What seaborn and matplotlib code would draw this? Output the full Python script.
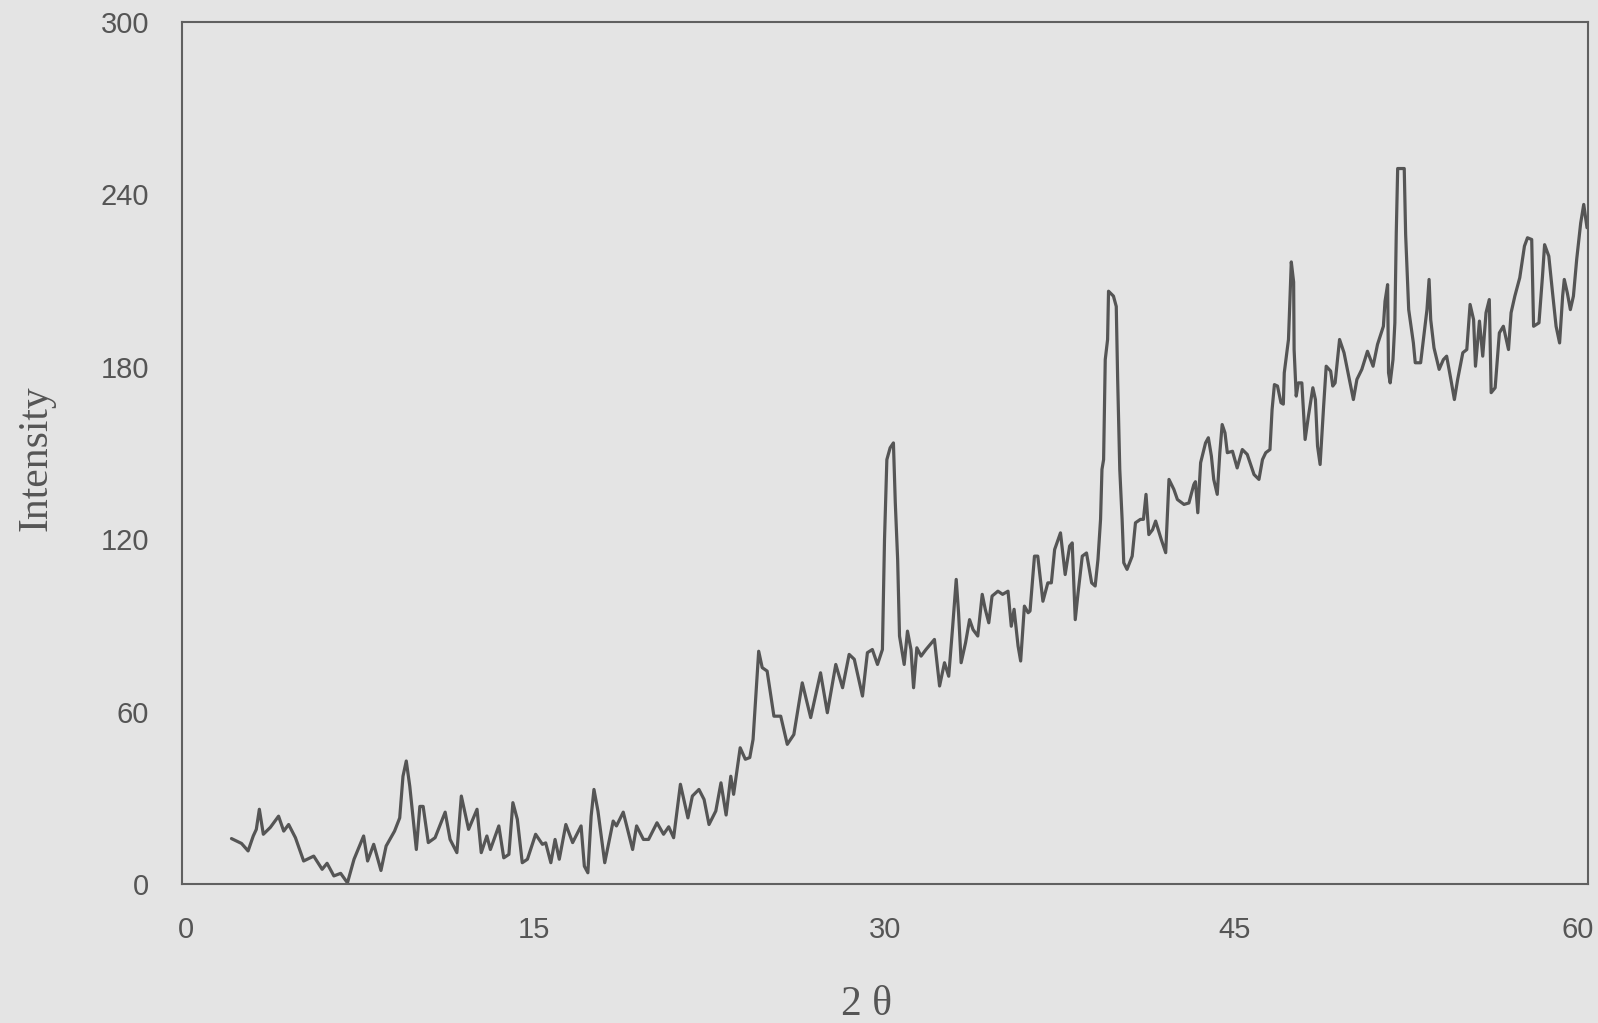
import matplotlib
matplotlib.use("Agg")
import matplotlib.pyplot as plt
from matplotlib.ticker import MultipleLocator
from matplotlib.transforms import ScaledTranslation
import seaborn as sns
import pandas as pd

# X-ray powder diffraction scan: diffraction angle (degrees) and counts
two_theta = [
    2.09, 2.52, 2.80, 3.02, 3.15, 3.28, 3.45, 3.75, 4.10, 4.32, 4.53, 4.82,
    5.17, 5.60, 5.96, 6.17, 6.46, 6.75, 7.04, 7.32, 7.73, 7.90, 8.16, 8.47,
    8.69, 9.05, 9.27, 9.41, 9.55, 9.70, 9.98, 10.13, 10.27, 10.49, 10.78,
    11.21, 11.42, 11.71, 11.90, 12.21, 12.57, 12.75, 12.99, 13.14, 13.50,
    13.71, 13.93, 14.10, 14.29, 14.50, 14.72, 15.07, 15.36, 15.50, 15.72,
    15.90, 16.08, 16.36, 16.65, 17.01, 17.15, 17.30, 17.44, 17.56, 17.73,
    18.02, 18.38, 18.52, 18.81, 19.21, 19.38, 19.67, 19.89, 20.25, 20.53,
    20.75, 20.96, 21.25, 21.57, 21.76, 22.04, 22.26, 22.47, 22.76, 22.98,
    23.20, 23.40, 23.52, 23.80, 24.02, 24.21, 24.35, 24.45, 24.59, 24.74,
    24.95, 25.24, 25.53, 25.81, 26.09, 26.45, 26.81, 27.23, 27.52, 27.88,
    28.17, 28.45, 28.67, 29.02, 29.23, 29.44, 29.66, 29.87, 29.96, 30.06,
    30.20, 30.34, 30.42, 30.52, 30.60, 30.80, 30.94, 31.09, 31.20, 31.34,
    31.52, 31.73, 32.09, 32.31, 32.52, 32.70, 32.87, 33.02, 33.12, 33.23,
    33.42, 33.59, 33.74, 33.94, 34.13, 34.26, 34.41, 34.55, 34.80, 35.00,
    35.23, 35.37, 35.49, 35.66, 35.77, 35.93, 36.09, 36.17, 36.36, 36.50,
    36.72, 36.93, 37.08, 37.22, 37.47, 37.67, 37.86, 37.97, 38.10, 38.22,
    38.40, 38.58, 38.80, 38.95, 39.07, 39.18, 39.24, 39.31, 39.38, 39.48,
    39.52, 39.73, 39.85, 39.91, 40.00, 40.10, 40.17, 40.31, 40.53, 40.67,
    40.88, 41.01, 41.12, 41.24, 41.40, 41.53, 41.77, 41.96, 42.10, 42.31,
    42.46, 42.74, 42.95, 43.16, 43.23, 43.33, 43.45, 43.66, 43.78, 43.91,
    44.01, 44.16, 44.27, 44.37, 44.49, 44.59, 44.81, 45.01, 45.23, 45.44,
    45.73, 45.94, 46.09, 46.23, 46.41, 46.50, 46.60, 46.73, 46.88, 46.98,
    47.02, 47.20, 47.27, 47.32, 47.42, 47.44, 47.53, 47.62, 47.77, 47.91,
    48.05, 48.24, 48.35, 48.44, 48.55, 48.70, 48.81, 49.00, 49.09, 49.19,
    49.38, 49.57, 49.77, 49.97, 50.12, 50.33, 50.57, 50.81, 51.00, 51.25,
    51.32, 51.43, 51.47, 51.54, 51.66, 51.74, 51.80, 51.86, 52.14, 52.20,
    52.33, 52.53, 52.61, 52.84, 52.96, 53.11, 53.20, 53.27, 53.41, 53.63,
    53.81, 53.95, 54.13, 54.28, 54.42, 54.64, 54.81, 54.95, 55.10, 55.18,
    55.35, 55.49, 55.63, 55.77, 55.85, 56.02, 56.20, 56.37, 56.59, 56.70,
    56.86, 57.07, 57.27, 57.40, 57.58, 57.66, 57.89, 58.04, 58.13, 58.31,
    58.47, 58.62, 58.77, 58.90, 58.97, 59.10, 59.23, 59.36, 59.50, 59.67,
    59.80, 59.94,
]
intensity = [
    15.8, 14.1, 11.5, 16.7, 19.0, 26.0, 17.3, 19.7, 23.6, 18.4, 20.7, 16.1,
    8.0, 9.7, 5.1, 7.2, 2.8, 3.7, 0.4, 8.6, 16.7, 8.0, 13.8, 4.7,
    13.2, 18.4, 23.0, 37.5, 42.8, 34.0, 12.0, 27.0, 27.0, 14.4, 16.1,
    25.0, 15.5, 10.9, 30.6, 19.0, 26.0, 10.9, 16.7, 12.0, 20.2,
    9.1, 10.3, 28.3, 22.5, 7.4, 8.6, 17.3, 13.8, 14.3, 7.4,
    15.5, 8.6, 20.7, 14.4, 20.2, 6.2, 3.9, 23.6, 32.9, 25.4,
    7.4, 21.9, 20.2, 25.0, 12.0, 20.2, 15.5, 15.5, 21.3, 17.3,
    19.9, 16.1, 34.7, 23.0, 30.6, 32.9, 29.4, 20.7, 25.4, 35.2,
    24.0, 37.5, 31.2, 47.4, 43.4, 44.0, 50.3, 63.1, 81.0, 75.3,
    74.1, 58.4, 58.4, 48.6, 52.0, 70.0, 57.9, 73.5, 59.6, 76.4,
    68.3, 79.9, 78.2, 65.4, 80.5, 81.6, 76.4, 81.6, 119.9, 147.7,
    151.8, 153.5, 132.7, 113.0, 86.3, 76.4, 88.0, 81.6, 68.3, 82.2,
    79.3, 81.6, 85.1, 68.9, 77.0, 72.3, 89.7, 106.0, 94.4, 77.0,
    84.0, 92.0, 88.5, 86.3, 100.8, 95.6, 90.9, 100.2, 101.9, 100.8,
    101.9, 89.7, 95.6, 82.8, 77.6, 96.7, 94.4, 95.0, 114.1, 114.1,
    98.4, 104.8, 104.8, 116.4, 122.2, 107.7, 117.6, 118.7, 92.0, 101.3,
    114.1, 115.2, 104.8, 103.7, 113.0, 126.9, 144.3, 147.7, 182.5, 189.5,
    206.3, 204.6, 201.0, 175.6, 144.3, 126.9, 111.8, 109.5, 114.1, 125.7,
    126.9, 126.9, 135.6, 121.6, 123.3, 126.3, 119.9, 115.3, 140.8, 137.3,
    133.8, 132.1, 132.6, 139.0, 140.0, 129.2, 146.6, 153.5, 155.3, 148.9,
    140.8, 135.6, 150.1, 159.9, 157.0, 150.1, 150.6, 144.8, 151.2, 149.5,
    142.5, 140.8, 147.7, 150.1, 151.2, 165.1, 173.8, 173.3, 167.5, 167.0,
    177.9, 189.5, 205.7, 216.5, 209.5, 186.0, 169.8, 174.4, 174.4, 154.7,
    162.8, 172.7, 168.6, 152.4, 146.0, 166.3, 180.2, 178.5, 173.3, 174.4,
    189.5, 184.9, 176.7, 168.6, 175.6, 179.1, 185.4, 180.2, 187.8, 194.1,
    202.8, 208.6, 177.9, 174.4, 182.5, 195.3, 226.6, 249.0, 249.0, 226.0,
    199.9, 188.3, 181.4, 181.4, 189.5, 199.9, 210.4, 196.4, 186.6, 179.1,
    182.5, 183.7, 175.6, 168.6, 175.6, 184.9, 186.0, 201.7, 196.4, 180.2,
    195.9, 183.7, 198.8, 203.4, 171.0, 172.7, 191.8, 194.1, 186.0, 198.8,
    204.6, 211.0, 222.0, 224.9, 224.3, 194.1, 195.3, 211.5, 222.5, 218.5,
    205.7, 194.1, 188.3, 204.6, 210.4, 205.7, 199.9, 204.6, 217.4, 230.0,
    236.5, 228.4,
]

x_ticks = [0, 15, 30, 45, 60]
y_ticks = [0, 60, 120, 180, 240, 300]

paper = "#e4e4e4"
ink = "#555555"

sns.set_theme(style="white")
plt.rcParams["font.family"] = ["Liberation Sans", "DejaVu Sans"]

df = pd.DataFrame({"two_theta": two_theta, "intensity": intensity})

fig = plt.figure(figsize=(15.98, 10.23), dpi=100, facecolor=paper)
ax = fig.add_axes([0.1142, 0.1359, 0.8798, 0.8426])
ax.set_facecolor(paper)

sns.lineplot(data=df, x="two_theta", y="intensity", ax=ax, sort=False,
             estimator=None, color=ink, linewidth=2.3)

ax.set_xlim(0, 60)
ax.set_ylim(0, 300)
ax.set_xticks(x_ticks)
ax.set_yticks(y_ticks)
ax.xaxis.set_minor_locator(MultipleLocator(5))
ax.yaxis.set_minor_locator(MultipleLocator(30))
ax.tick_params(which="both", direction="in", length=3.5, width=1.0,
               color=ink, labelcolor=ink, labelsize=21)
ax.tick_params(axis="x", which="major", pad=23)
ax.tick_params(axis="y", which="major", pad=24)
ax.set_xlabel("")
ax.set_ylabel("")

# pull the outer x labels slightly inward so the end labels stay on the page
shifts_px = [3, 0, 0, -2, -11]
for lab, dx in zip(ax.get_xticklabels(), shifts_px):
    lab.set_transform(lab.get_transform()
                      + ScaledTranslation(dx / 100, 0, fig.dpi_scale_trans))

for side in ax.spines.values():
    side.set_visible(True)
    side.set_color("#606060")
    side.set_linewidth(1.5)

fig.text(0.5424, 0.0078, "2 θ", ha="center", va="baseline", fontsize=30,
         color=ink, family=["Liberation Serif", "DejaVu Serif"])
fig.text(0.0225, 0.5518, "Intensity", ha="center", va="center", rotation=90,
         fontsize=30, color=ink, family=["Liberation Serif", "DejaVu Serif"])

fig.savefig("out.png", dpi=100, facecolor=paper)
